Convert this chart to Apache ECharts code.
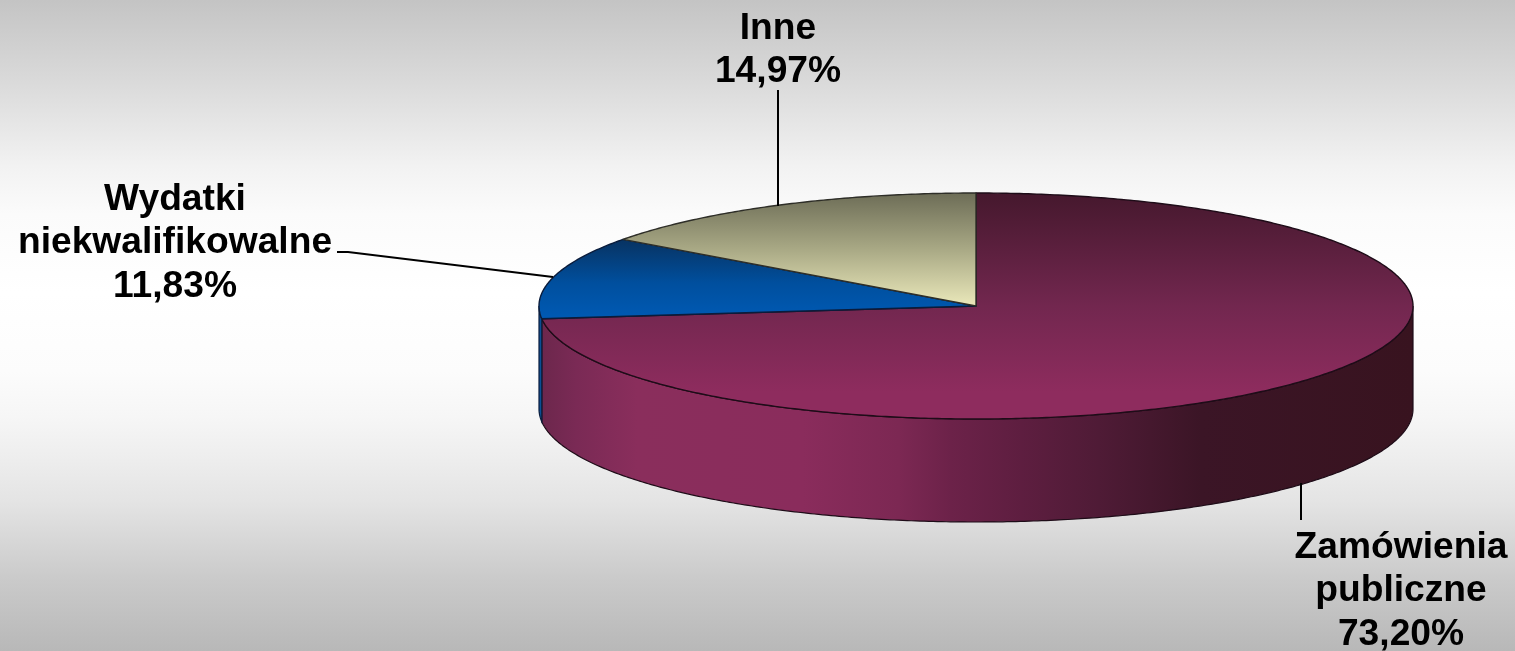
<!DOCTYPE html>
<html>
<head>
<meta charset="utf-8">
<style>html,body{margin:0;padding:0;background:#fff}#chart{width:1515px;height:651px}</style>
<script src="https://cdn.jsdelivr.net/npm/echarts@6/dist/echarts.min.js"></script>
</head>
<body>
<div id="chart"></div>
<script>
const categories = ['Zamówienia\npubliczne', 'Wydatki\nniekwalifikowalne', 'Inne'];
const values = [73.20, 11.83, 14.97];

// Styling and placement, separate from the data
const CX = 976, CY = 306, RX = 437, RY = 113, DEPTH = 103;
const grad = (x, y, x2, y2, stops) => ({
  type: 'linear', x, y, x2, y2,
  colorStops: stops.map(s => ({offset: s[0], color: s[1]}))
});
const topFill = [
  grad(0,0,0,1,[[0,'#45182d'],[0.5,'#72274f'],[0.88,'#8e2c5e'],[1,'#8e2c5e']]),
  grad(0,0,0,1,[[0,'#083260'],[0.55,'#004f9e'],[1,'#005ab4']]),
  grad(0,0,0,1,[[0,'#6c6c56'],[0.5,'#a9a985'],[1,'#ebe9bb']])
];
const sideFill = [
  grad(0,0,1,0,[[0,'#6c274c'],[0.04,'#7a2a55'],[0.11,'#8a2e5c'],[0.30,'#8a2c5c'],[0.41,'#7c2853'],[0.47,'#6c2249'],[0.55,'#5e1e40'],[0.64,'#4f1b36'],[0.756,'#3b1526'],[1,'#38131f']]),
  '#0a4f94',
  '#8a8a6c'
];
const strokes = ['#1e0c18', '#0a1c3c', '#2e2e28'];
const labelBoxes = [
  {x: 1401, y: 591},
  {x: 175, y: 243},
  {x: 778, y: 50}
];
const leaders = [
  [[1301, 483], [1301, 520]],
  [[337, 252], [348, 252], [553, 277]],
  [[778, 90], [778, 206]]
];

const total = values.reduce((a, b) => a + b, 0);
const startAngles = values.map((_, i) => values.slice(0, i).reduce((a, b) => a + b, 0) / total * 2 * Math.PI);
const pctText = v => v.toFixed(2).replace('.', ',') + '%';
const pt = (a, dy) => [CX + RX * Math.sin(a), CY - RY * Math.cos(a) + (dy || 0)];
function arc(a0, a1, dy) {
  const n = Math.max(2, Math.ceil(Math.abs(a1 - a0) / 0.01));
  const out = [];
  for (let k = 0; k <= n; k++) out.push(pt(a0 + (a1 - a0) * k / n, dy));
  return out;
}

function renderItem(params, api) {
  const i = params.dataIndex;
  const a0 = startAngles[i];
  const a1 = a0 + api.value(0) / total * 2 * Math.PI;
  const children = [];
  // the wall of the disc is only visible on its near half
  const s0 = Math.max(a0, Math.PI / 2), s1 = Math.min(a1, 3 * Math.PI / 2);
  if (s1 > s0) {
    children.push({
      type: 'polygon',
      shape: {points: arc(s0, s1, 0).concat(arc(s1, s0, DEPTH))},
      style: {fill: sideFill[i], stroke: strokes[i], lineWidth: 1.2}
    });
  }
  children.push({
    type: 'polygon',
    shape: {points: [[CX, CY]].concat(arc(a0, a1, 0))},
    style: {fill: topFill[i], stroke: strokes[i], lineWidth: 1.4, lineJoin: 'round'}
  });
  children.push({
    type: 'polyline',
    shape: {points: leaders[i]},
    style: {fill: null, stroke: '#000', lineWidth: 2},
    z2: 5
  });
  children.push({
    type: 'text',
    x: labelBoxes[i].x, y: labelBoxes[i].y,
    style: {
      text: categories[i] + '\n' + pctText(api.value(0)),
      font: 'bold 37.2px "Liberation Sans", Arial, sans-serif',
      fill: '#000', align: 'center', verticalAlign: 'middle', lineHeight: 43.5
    },
    z2: 6
  });
  return {type: 'group', children};
}

const chart = echarts.init(document.getElementById('chart'), null, {renderer: 'canvas'});
chart.setOption({
  animation: false,
  backgroundColor: grad(0,0,0,1,[[0,'#c4c4c4'],[0.127,'#dadada'],[0.255,'#f2f2f2'],[0.33,'#fbfbfb'],[0.45,'#ffffff'],[0.57,'#fcfcfc'],[0.64,'#f6f6f6'],[0.70,'#eeeeee'],[0.77,'#e4e4e4'],[0.89,'#cacaca'],[1,'#b8b8b8']]),
  series: [{
    type: 'custom',
    coordinateSystem: 'none',
    silent: true,
    clip: false,
    renderItem,
    data: values.map(v => [v])
  }]
});
</script>
</body>
</html>
